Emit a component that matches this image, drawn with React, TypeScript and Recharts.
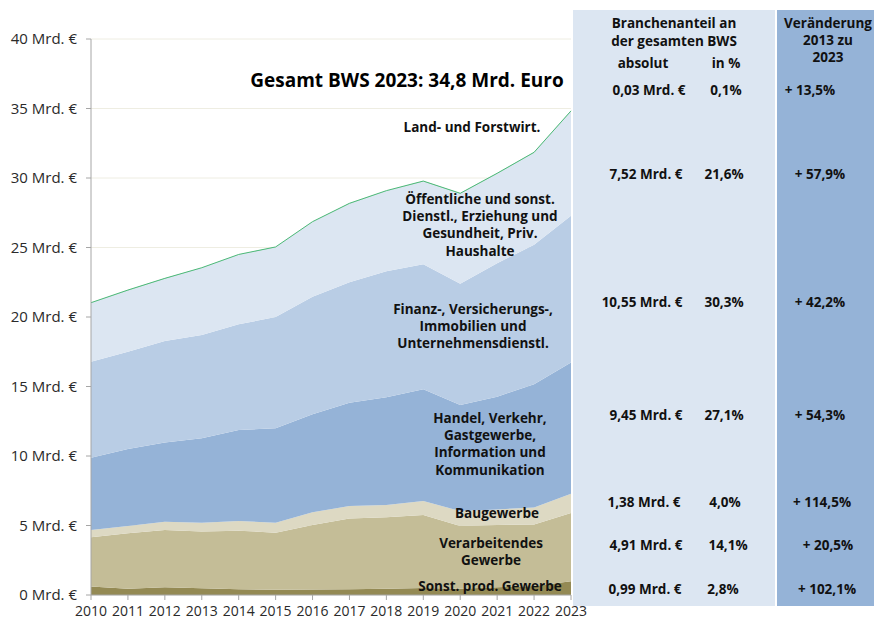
import React from 'react';
import { AreaChart, Area, XAxis, YAxis, CartesianGrid } from 'recharts';

const years = ['2010','2011','2012','2013','2014','2015','2016','2017','2018','2019','2020','2021','2022','2023'];
const sonstProd = [0.62,0.45,0.55,0.49,0.42,0.37,0.40,0.42,0.45,0.50,0.45,0.55,0.65,0.99];
const verarbeitendes = [3.53,3.99,4.13,4.07,4.21,4.11,4.64,5.08,5.15,5.25,4.51,4.49,4.43,4.91];
const baugewerbe = [0.53,0.52,0.59,0.64,0.69,0.72,0.91,0.90,0.87,1.01,1.08,1.12,1.22,1.38];
const handel = [5.20,5.54,5.71,6.07,6.55,6.79,7.05,7.43,7.75,8.04,7.63,8.11,8.86,9.45];
const finanz = [6.90,7.00,7.29,7.43,7.60,8.01,8.46,8.67,9.08,9.00,8.73,9.59,10.04,10.55];
const oeffentlich = [4.22,4.41,4.48,4.82,5.00,5.01,5.37,5.65,5.76,5.95,6.47,6.45,6.62,7.52];
const landForst = [0.03,0.03,0.03,0.026,0.03,0.03,0.03,0.03,0.03,0.03,0.03,0.03,0.03,0.03];

const yTicks = [0,5,10,15,20,25,30,35,40];

const titleText = 'Gesamt BWS 2023: 34,8 Mrd. Euro';
const areaLabels = [
  ['Land- und Forstwirt.'],
  ['Öffentliche und sonst.', 'Dienstl., Erziehung und', 'Gesundheit, Priv.', 'Haushalte'],
  ['Finanz-, Versicherungs-,', 'Immobilien und', 'Unternehmensdienstl.'],
  ['Handel, Verkehr,', 'Gastgewerbe,', 'Information und', 'Kommunikation'],
  ['Baugewerbe'],
  ['Verarbeitendes', 'Gewerbe'],
  ['Sonst. prod. Gewerbe'],
];
const absolutValues = ['0,03 Mrd. €','7,52 Mrd. €','10,55 Mrd. €','9,45 Mrd. €','1,38 Mrd. €','4,91 Mrd. €','0,99 Mrd. €'];
const percentValues = ['0,1%','21,6%','30,3%','27,1%','4,0%','14,1%','2,8%'];
const changeValues = ['+ 13,5%','+ 57,9%','+ 42,2%','+ 54,3%','+ 114,5%','+ 20,5%','+ 102,1%'];
const headerShare = ['Branchenanteil an', 'der gesamten BWS'];
const headerCols = ['absolut', 'in %'];
const headerChange = ['Veränderung', '2013 zu', '2023'];

// layout (positions only)
const labelPos = [
  { x: 472, y: 132 },
  { x: 480, y: 204 },
  { x: 473, y: 314 },
  { x: 490, y: 423 },
  { x: 497, y: 518 },
  { x: 491, y: 548 },
  { x: 490, y: 591 },
];
const rowY = [95, 179, 307, 420, 507, 550, 594];
const absX = [649, 646, 642, 646, 644, 646, 645];
const pctX = [726, 724, 724, 724, 725, 728, 723];
const chgX = [810, 820, 820, 820, 822, 828, 827];

const data = years.map((y, i) => ({
  year: y,
  sonstProd: sonstProd[i],
  verarbeitendes: verarbeitendes[i],
  baugewerbe: baugewerbe[i],
  handel: handel[i],
  finanz: finanz[i],
  oeffentlich: oeffentlich[i],
  landForst: landForst[i],
}));

const FONT = '"Open Sans", "Noto Sans", sans-serif';

export default function App() {
  return (
    <div style={{ position: 'absolute', left: 0, top: 0, width: 874, height: 619, background: '#fff', fontFamily: FONT }}>
      <AreaChart width={874} height={619} data={data} margin={{ top: 39, right: 303, bottom: 4, left: 0 }}>
        <CartesianGrid vertical={false} stroke="#EEEDE2" />
        <XAxis
          dataKey="year"
          stroke="#A6A6A6"
          tickSize={5}
          tickMargin={6}
          height={20}
          interval={0}
          tick={{ fill: '#2a2a2a', fontSize: 14, fontFamily: FONT }}
        />
        <YAxis
          type="number"
          domain={[0, 40]}
          ticks={yTicks}
          width={91}
          stroke="#A6A6A6"
          tickSize={5}
          tickMargin={9}
          tickFormatter={(v) => `${v} Mrd. €`}
          tick={{ fill: '#2a2a2a', fontSize: 15, fontFamily: FONT }}
        />
        <Area type="linear" dataKey="sonstProd" stackId="a" fill="#948A54" fillOpacity={1} stroke="none" isAnimationActive={false} />
        <Area type="linear" dataKey="verarbeitendes" stackId="a" fill="#C4BD97" fillOpacity={1} stroke="none" isAnimationActive={false} />
        <Area type="linear" dataKey="baugewerbe" stackId="a" fill="#DDD9C3" fillOpacity={1} stroke="none" isAnimationActive={false} />
        <Area type="linear" dataKey="handel" stackId="a" fill="#95B3D7" fillOpacity={1} stroke="none" isAnimationActive={false} />
        <Area type="linear" dataKey="finanz" stackId="a" fill="#B9CDE5" fillOpacity={1} stroke="none" isAnimationActive={false} />
        <Area type="linear" dataKey="oeffentlich" stackId="a" fill="#DCE6F2" fillOpacity={1} stroke="none" isAnimationActive={false} />
        <Area type="linear" dataKey="landForst" stackId="a" fill="#9BD3AE" fillOpacity={1} stroke="#4DB87A" strokeWidth={1} isAnimationActive={false} />
      </AreaChart>
      <svg width={874} height={619} style={{ position: 'absolute', left: 0, top: 0, pointerEvents: 'none' }} fontFamily={FONT}>
        <rect x={573} y={10} width={202} height={596} fill="#DCE6F2" />
        <rect x={777} y={10} width={97} height={596} fill="#95B3D7" />
        <text x={407} y={87} textAnchor="middle" fontSize={19} fontWeight={700} fill="#000">{titleText}</text>
        {areaLabels.map((lines, i) => (
          <text key={i} x={labelPos[i].x} y={labelPos[i].y} textAnchor="middle" fontSize={13.5} fontWeight={700} fill="#111">
            {lines.map((l, j) => (
              <tspan key={j} x={labelPos[i].x} y={labelPos[i].y + j * 17.2}>{l}</tspan>
            ))}
          </text>
        ))}
        {headerShare.map((l, j) => (
          <text key={'hs' + j} x={674} y={28 + j * 18} textAnchor="middle" fontSize={13.5} fontWeight={700} fill="#111">{l}</text>
        ))}
        <text x={643} y={68} textAnchor="middle" fontSize={13.5} fontWeight={700} fill="#111">{headerCols[0]}</text>
        <text x={726} y={68} textAnchor="middle" fontSize={13.5} fontWeight={700} fill="#111">{headerCols[1]}</text>
        {headerChange.map((l, j) => (
          <text key={'hc' + j} x={828} y={28 + j * 17} textAnchor="middle" fontSize={13.5} fontWeight={700} fill="#111">{l}</text>
        ))}
        {rowY.map((y, i) => (
          <g key={'r' + i}>
            <text x={absX[i]} y={y} textAnchor="middle" fontSize={13.5} fontWeight={700} fill="#111">{absolutValues[i]}</text>
            <text x={pctX[i]} y={y} textAnchor="middle" fontSize={13.5} fontWeight={700} fill="#111">{percentValues[i]}</text>
            <text x={chgX[i]} y={y} textAnchor="middle" fontSize={13.5} fontWeight={700} fill="#111">{changeValues[i]}</text>
          </g>
        ))}
      </svg>
    </div>
  );
}
